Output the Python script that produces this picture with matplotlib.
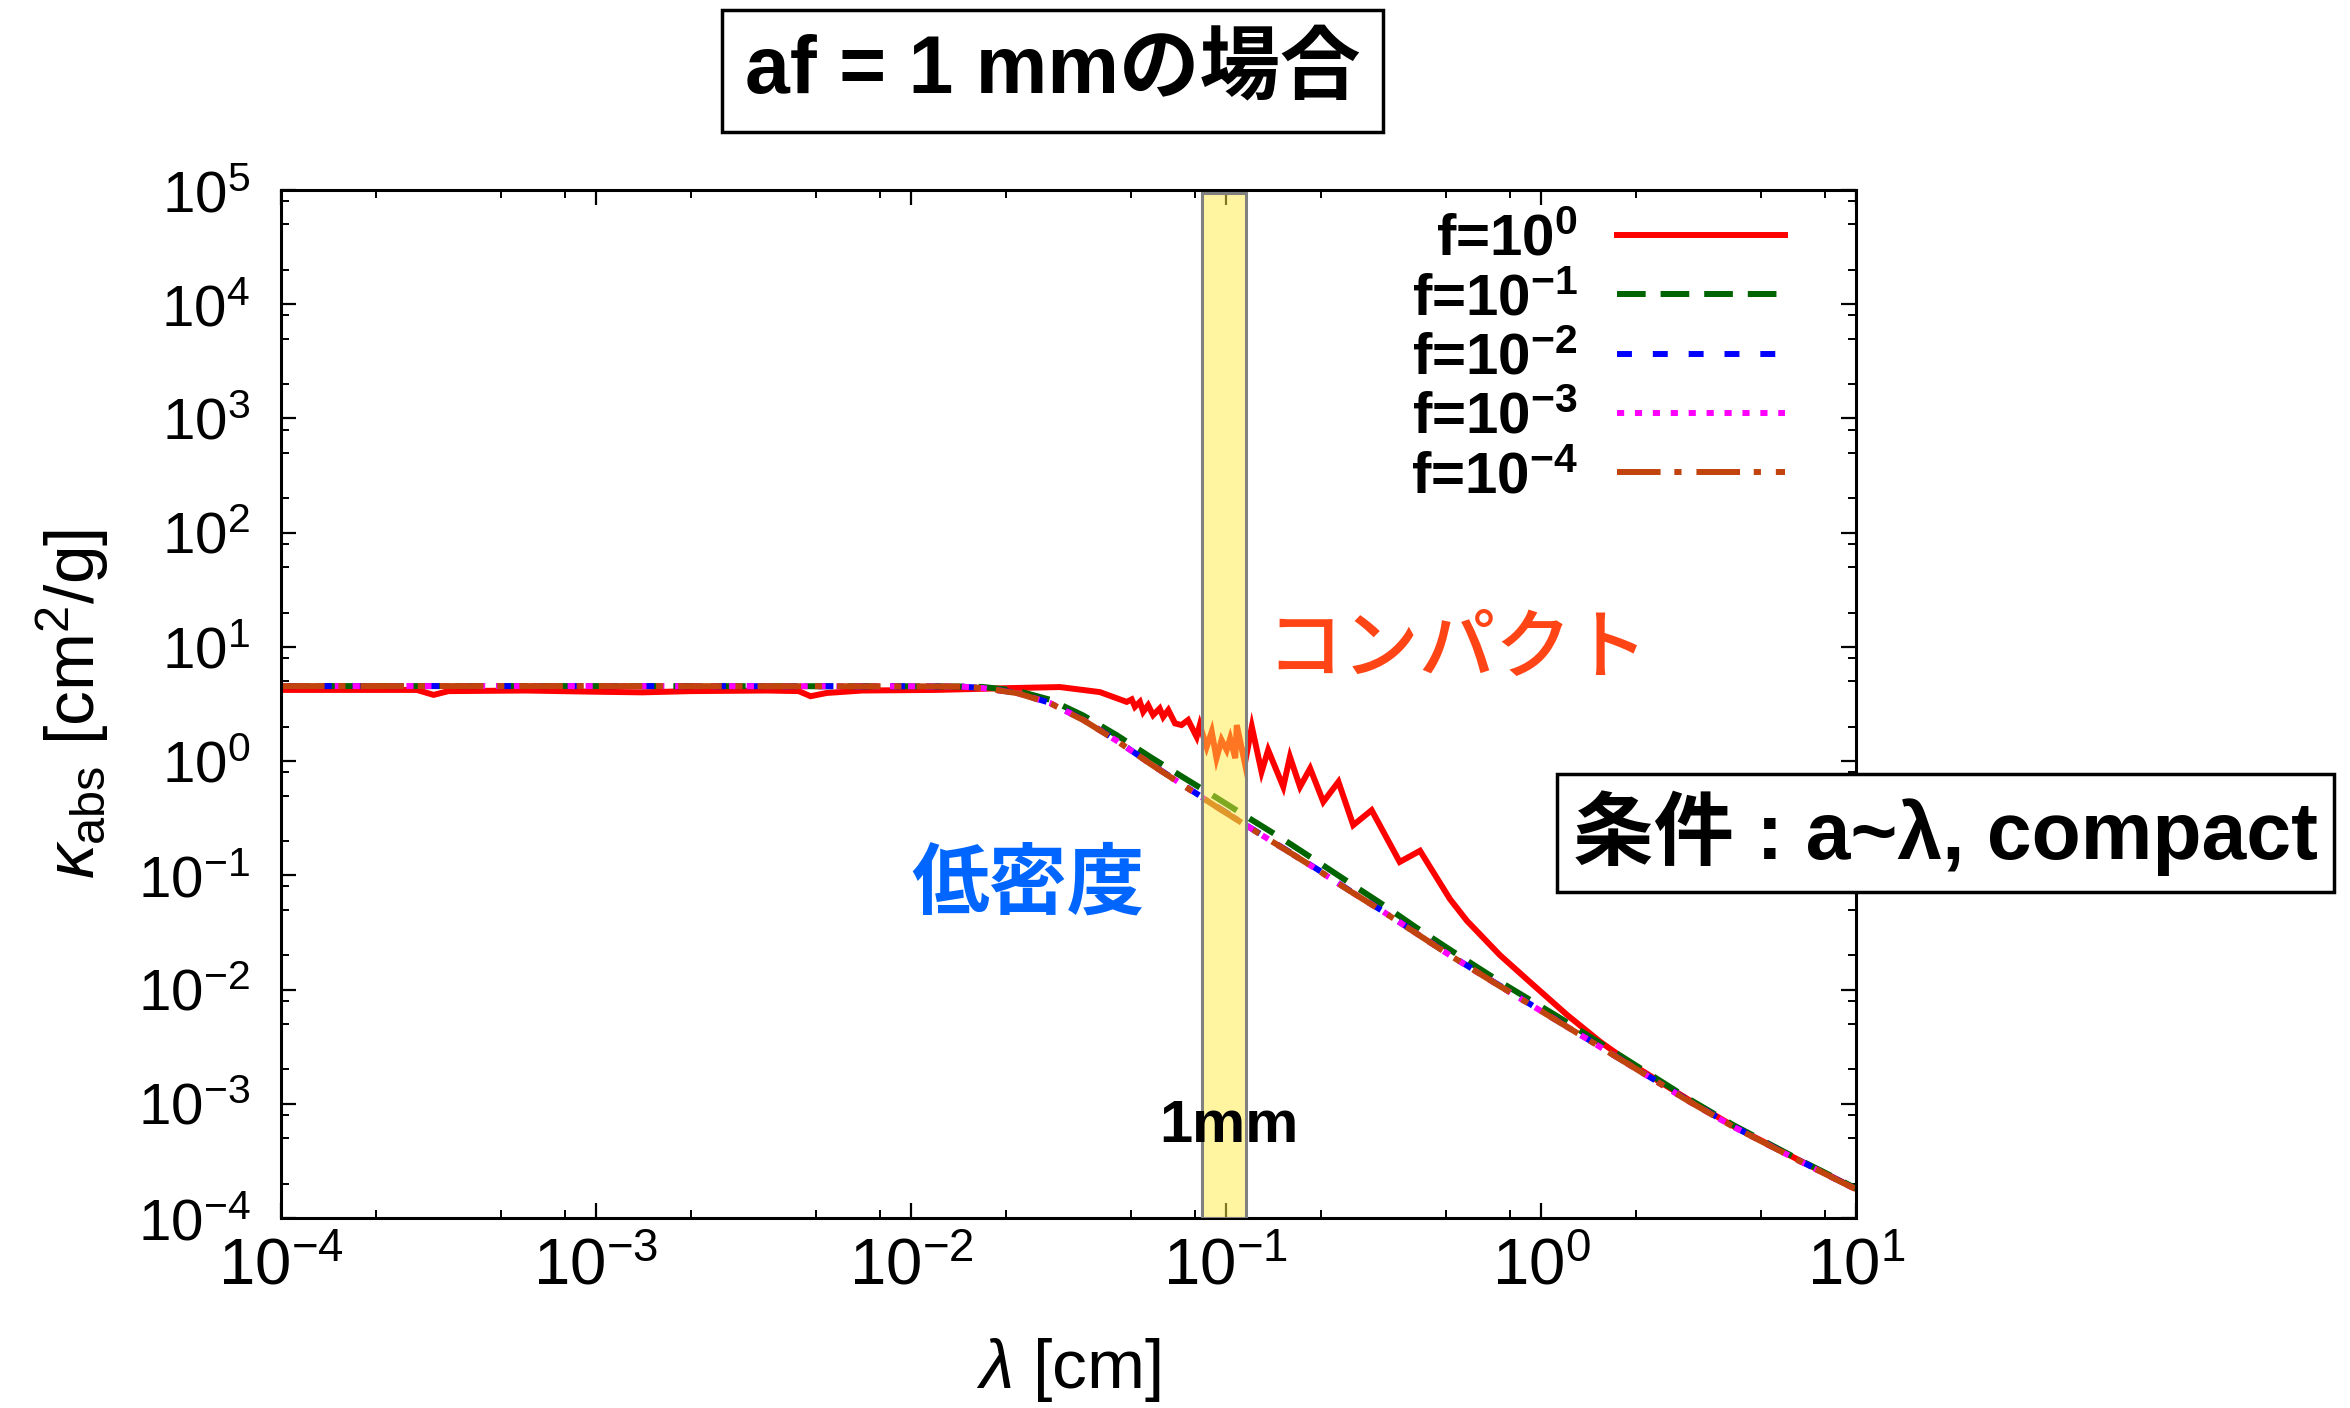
import matplotlib
matplotlib.use("Agg")
import matplotlib.pyplot as plt
from matplotlib.ticker import LogLocator, NullFormatter

plt.rcParams['font.family'] = ['Liberation Sans', 'Noto Sans CJK JP', 'DejaVu Sans']
plt.rcParams['mathtext.fontset'] = 'custom'
plt.rcParams['mathtext.rm'] = 'Liberation Sans'
plt.rcParams['mathtext.it'] = 'Liberation Sans:italic'
plt.rcParams['mathtext.bf'] = 'Liberation Sans:bold'

# ---- absorption opacity vs wavelength, a_f = 1 mm ----
# f = 1 (compact aggregate)
lam_f0 = [1e-4, 2.7e-4, 3.05e-4, 3.4e-4, 6e-4, 1.0e-3, 1.4e-3, 2.0e-3, 3.5e-3,
          4.4e-3, 4.8e-3, 5.4e-3, 7e-3, 0.012, 0.02, 0.0297, 0.0398, 0.0484,
          0.0502, 0.0514, 0.0533, 0.0546, 0.0566, 0.0587, 0.0616, 0.0632,
          0.0656, 0.0689, 0.0722, 0.0758, 0.0807, 0.0826, 0.0868, 0.0901,
          0.0933, 0.0968, 0.1005, 0.1031, 0.107, 0.1082, 0.1148, 0.1208,
          0.1297, 0.1361, 0.152, 0.1596, 0.1718, 0.185, 0.2037, 0.2275,
          0.2535, 0.290, 0.356, 0.413, 0.514, 0.582, 0.741, 0.944, 1.21,
          1.54, 1.96, 2.95, 4.07, 6.61, 10.0]
kap_f0 = [4.2, 4.2, 3.8, 4.1, 4.15, 4.05, 4.0, 4.1, 4.15,
          4.1, 3.7, 3.95, 4.15, 4.2, 4.35, 4.45, 4.02, 3.30,
          3.47, 2.99, 3.30, 2.70, 3.09, 2.53, 2.89, 2.44,
          2.80, 2.14, 2.07, 2.29, 1.63, 2.07, 1.33, 1.81,
          1.06, 1.53, 1.25, 1.58, 1.06, 2.07, 0.955, 2.0,
          0.805, 1.25, 0.596, 1.09, 0.596, 0.863, 0.440, 0.659,
          0.275, 0.372, 0.131, 0.164, 0.0620, 0.0400, 0.0200, 0.0110, 0.0060,
          0.0035, 0.00218, 0.00108, 6.4e-4, 3.2e-4, 1.8e-4]

# porous aggregates (f = 1e-1 ... 1e-4)
lam_low = [1e-4, 1e-3, 0.01, 0.0143, 0.0169, 0.0217, 0.0276, 0.0352, 0.0451,
           0.0574, 0.073, 0.0933, 0.120, 0.151, 0.195, 0.245, 0.316, 0.398,
           0.513, 0.741, 1.12, 1.86, 2.95, 4.07, 6.61, 10.0]
kap_f1 = [4.54, 4.54, 4.52, 4.50, 4.46, 4.13, 3.45, 2.51, 1.68,
          1.09, 0.723, 0.478, 0.309, 0.209, 0.132, 0.0871, 0.0550, 0.0355,
          0.0224, 0.0117, 0.00589, 0.00246, 0.00110, 6.53e-4, 3.23e-4, 1.82e-4]
kap_f2 = [4.54, 4.54, 4.52, 4.50, 4.37, 3.96, 3.24, 2.31, 1.51,
          0.955, 0.62, 0.401, 0.259, 0.175, 0.113, 0.0746, 0.0482, 0.0318,
          0.0201, 0.0108, 0.00540, 0.00230, 0.00106, 6.35e-4, 3.18e-4, 1.79e-4]
kap_f3 = [4.54, 4.54, 4.52, 4.50, 4.36, 3.95, 3.23, 2.30, 1.50,
          0.952, 0.617, 0.399, 0.258, 0.174, 0.112, 0.0743, 0.0480, 0.0317,
          0.0200, 0.0107, 0.00538, 0.00229, 0.00105, 6.31e-4, 3.16e-4, 1.78e-4]
kap_f4 = [4.54, 4.54, 4.52, 4.50, 4.36, 3.94, 3.22, 2.29, 1.50,
          0.95, 0.615, 0.398, 0.257, 0.174, 0.112, 0.0741, 0.0479, 0.0316,
          0.0200, 0.0107, 0.00537, 0.00229, 0.00105, 6.31e-4, 3.16e-4, 1.78e-4]

labels = [r'f=10$^{\mathdefault{0}}$', r'f=10$^{\mathdefault{-1}}$',
          r'f=10$^{\mathdefault{-2}}$', r'f=10$^{\mathdefault{-3}}$',
          r'f=10$^{\mathdefault{-4}}$']
colors = ['#FF0000', '#006400', '#0000FF', '#FF00FF', '#C1440E']
styles = ['-', (0, (4.8, 2.5)), (0, (2.5, 3.5)), (0, (1.2, 1.8)),
          (0, (7.3, 2.3, 1.2, 2.5))]

band = (0.084, 0.116)   # 1 mm marker band

fig = plt.figure(figsize=(23.5, 14.08), dpi=100)
ax = fig.add_axes([0.11957, 0.13494, 0.67021, 0.73011])

series = [(lam_f0, kap_f0), (lam_low, kap_f1), (lam_low, kap_f2),
          (lam_low, kap_f3), (lam_low, kap_f4)]
for (x, y), lab, c, ls in zip(series, labels, colors, styles):
    ax.plot(x, y, color=c, ls=ls, lw=4.3, label=lab, zorder=2,
            solid_joinstyle='miter')

ax.axvspan(band[0], band[1], ymin=0, ymax=0.997,
           fc=(1.0, 0.93, 0.27, 0.5), ec='#808080', lw=2.2, zorder=3)

ax.set_xscale('log')
ax.set_yscale('log')
ax.set_xlim(1e-4, 10)
ax.set_ylim(1e-4, 1e5)

for axis in (ax.xaxis, ax.yaxis):
    axis.set_major_locator(LogLocator(base=10, numticks=20))
    axis.set_minor_locator(LogLocator(base=10, subs=[2, 5, 8], numticks=20))
    axis.set_minor_formatter(NullFormatter())

ax.tick_params(which='both', direction='in', top=True, right=True)
ax.tick_params(which='major', length=11, width=1.6)
ax.tick_params(which='minor', length=6, width=1.4)
ax.tick_params(axis='y', which='major', labelsize=42, pad=22)
ax.tick_params(axis='x', which='major', labelsize=47, pad=14)
for sp in ax.spines.values():
    sp.set_linewidth(2.2)

ax.set_xlabel(r'$\lambda$ [cm]', fontsize=50)
ax.xaxis.set_label_coords(0.5, -0.115)
ax.set_ylabel(r'$\kappa_{\rm abs}$ [cm$^{2}$/g]', fontsize=50)
ax.yaxis.set_label_coords(-0.108, 0.5)

leg = ax.legend(loc='upper right', bbox_to_anchor=(0.955, 0.977), frameon=False,
                markerfirst=False, handlelength=2.88, handletextpad=0.67,
                labelspacing=0.09, borderaxespad=0, borderpad=0,
                prop={'weight': 'bold', 'size': 42})

ax.text(0.523, 0.1996, '1mm', transform=fig.transFigure, ha='center',
        va='center', fontsize=43, fontweight='bold', zorder=6)
ax.text(0.620, 0.537, 'コンパクト', transform=fig.transFigure, ha='center',
        va='center', fontsize=55, fontweight='medium', color='#FF4416',
        zorder=6)
ax.text(0.4374, 0.370, '低密度', transform=fig.transFigure, ha='center',
        va='center', fontsize=56, fontweight='bold', color='#0066FF',
        zorder=6)

fig.text(0.448, 0.9496, 'af = 1 mmの場合', ha='center', va='center',
         fontsize=58, fontweight='bold',
         bbox=dict(boxstyle='square,pad=0.28', fc='white', ec='black', lw=2.5))
fig.text(0.8277, 0.4084, '条件 : a~λ, compact', ha='center', va='center',
         fontsize=58, fontweight='bold', zorder=10,
         bbox=dict(boxstyle='square,pad=0.2', fc='white', ec='black', lw=2.5))

fig.savefig('out.png', dpi=100)
